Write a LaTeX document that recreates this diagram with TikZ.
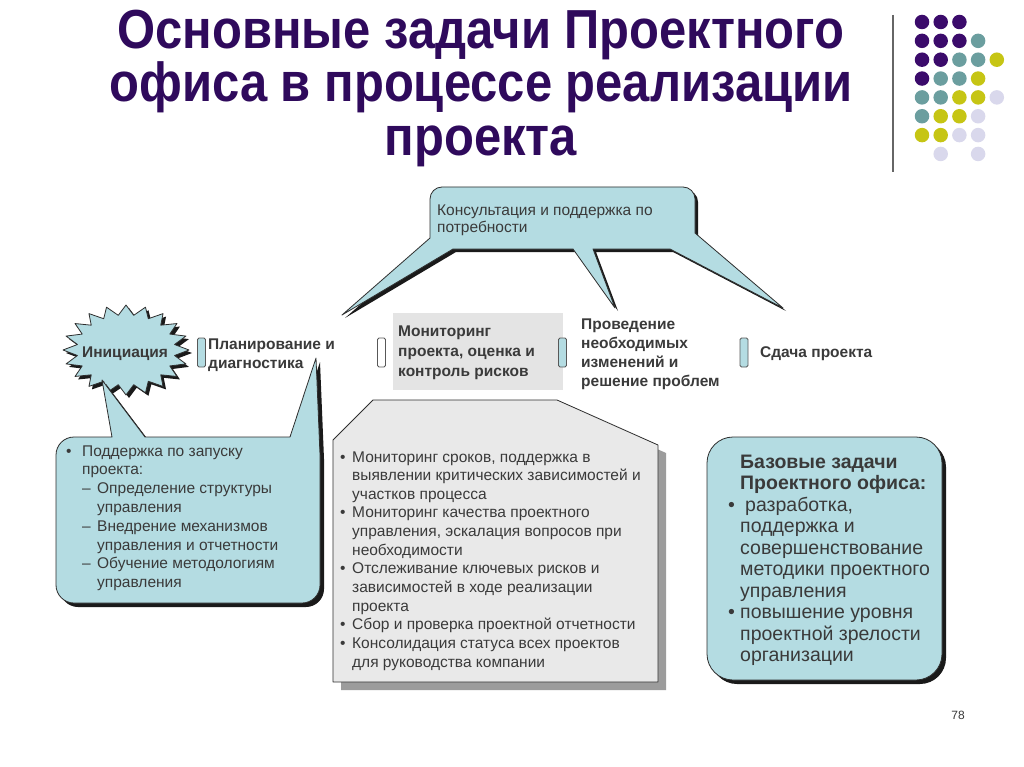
\documentclass[tikz,border=0pt]{standalone}
\usepackage{fontspec}
\setmainfont{Liberation Sans}
\newfontfamily\ttlfont[FakeStretch=0.89]{Liberation Sans}
\definecolor{cblue}{HTML}{B4DCE2}
\definecolor{outl}{HTML}{2E2E2E}
\definecolor{shd}{HTML}{1A1A1A}
\definecolor{txt}{HTML}{3A3A3A}
\definecolor{ttl}{HTML}{2F0A5C}
\definecolor{dp}{HTML}{3B0B6B}
\definecolor{dt}{HTML}{6B9E9F}
\definecolor{dy}{HTML}{C6C514}
\definecolor{dl}{HTML}{D9D8EC}
\definecolor{pgray}{HTML}{E9E9E9}
\definecolor{pshd}{HTML}{9C9C9C}
\definecolor{gbox}{HTML}{E4E4E4}
\newcommand{\mkb}[2]{\makebox[#1pt][l]{#2}}
\begin{document}
\begin{tikzpicture}[x=1pt,y=-1pt,
  lbl/.style={anchor=base west, inner sep=0pt, text=txt, font=\fontsize{15.5}{18}\selectfont},
  lblb/.style={anchor=base west, inner sep=0pt, text=txt, font=\fontsize{15.5}{18}\selectfont\bfseries},
  rbt/.style={anchor=base west, inner sep=0pt, text=txt, font=\fontsize{19.5}{22}\selectfont},
  rbtb/.style={anchor=base west, inner sep=0pt, text=txt, font=\fontsize{19.5}{22}\selectfont\bfseries},
  ttlst/.style={anchor=base, inner sep=0pt, text=ttl, font=\ttlfont\fontsize{55}{60}\selectfont\bfseries},
  callout/.style={fill=cblue, draw=outl, line width=0.8pt, line join=round},
  shadow/.style={fill=shd, draw=shd, line width=0.8pt, line join=round},
  marker/.style={draw=outl!80, line width=0.9pt, rounded corners=1.5pt, minimum width=8pt, minimum height=29pt, inner sep=0pt, fill=cblue},
  dot/.style={circle, minimum size=14.5pt, inner sep=0pt}
]
\useasboundingbox (0,0) rectangle (1024,767);
\fill[white] (0,0) rectangle (1024,767);

% ---------- title ----------
\node[ttlst] (t1) at (481,49) {Основные задачи Проектного};
\node[ttlst] (t2) at (481,102) {офиса в процессе реализации};
\node[ttlst] (t3) at (481,156) {проекта};

% ---------- decoration dots ----------
\draw[line width=1.2pt, color=black!60] (893,15) -- (893,172);
\foreach \r/\c/\col [count=\i] in {1/1/dp,1/2/dp,1/3/dp,
  2/1/dp,2/2/dp,2/3/dp,2/4/dt,
  3/1/dp,3/2/dp,3/3/dt,3/4/dt,3/5/dy,
  4/1/dp,4/2/dt,4/3/dt,4/4/dy,
  5/1/dt,5/2/dt,5/3/dy,5/4/dy,5/5/dl,
  6/1/dt,6/2/dy,6/3/dy,6/4/dl,
  7/1/dy,7/2/dy,7/3/dl,7/4/dl,
  8/2/dl,8/4/dl}
  \node[dot, fill=\col] (d\i) at ({922+18.7*(\c-1)}, {22+18.85*(\r-1)}) {};

% ---------- top callout ----------
\fill[shd, shift={(3,3)}] (453,249) -- (342,315) -- (430,238) [rounded corners=12pt] -- (430,187) -- (695,187) [sharp corners] -- (695,233) -- (783,308) -- (670,249) -- (593,249) -- (615,308) -- (573,249) -- cycle;
\draw[callout] (453,249) -- (342,315) -- (430,238) [rounded corners=12pt] -- (430,187) -- (695,187) [sharp corners] -- (695,233) -- (783,308) -- (670,249) -- (593,249) -- (615,308) -- (573,249) -- cycle;
\node[lbl] (c1) at (437,215) {Консультация и поддержка по};
\node[lbl] (c2) at (437,233) {потребности};

% ---------- process row ----------
\fill[gbox] (393,313) rectangle (563,390);
\node[marker] (m1) at (201.5,352.5) {};
\node[marker, fill=white] (m2) at (381.5,352.5) {};
\node[marker] (m3) at (562.5,352.5) {};
\node[marker] (m4) at (744,352.5) {};
\node[lblb] (p1a) at (208,349) {Планирование и};
\node[lblb] (p1b) at (208,368) {диагностика};
\node[lblb] (p2a) at (398,336) {Мониторинг};
\node[lblb] (p2b) at (398,356) {проекта, оценка и};
\node[lblb] (p2c) at (398,376) {контроль рисков};
\node[lblb] (p3a) at (581,329) {Проведение};
\node[lblb] (p3b) at (581,348) {необходимых};
\node[lblb] (p3c) at (581,367) {изменений и};
\node[lblb] (p3d) at (581,386) {решение проблем};
\node[lblb] (p4) at (760,357) {Сдача проекта};

% ---------- starburst ----------
\fill[shd, shift={(3,3)}] plot[samples at={0,9,...,351}, variable=\a]
  ({126+63*(1-0.22*mod(round(\a/9),2))*cos(\a)}, {350+45*(1-0.22*mod(round(\a/9),2))*sin(\a)}) -- cycle;
\draw[callout] plot[samples at={0,9,...,351}, variable=\a]
  ({126+63*(1-0.22*mod(round(\a/9),2))*cos(\a)}, {350+45*(1-0.22*mod(round(\a/9),2))*sin(\a)}) -- cycle;
\node[lblb] (ini) at (82,357) {Инициация};

% ---------- lower-left callout ----------
\fill[shd, shift={(4,4)}] (102,380) -- (145,437) -- (290,437) -- (316,358) -- (320,455) [rounded corners=18pt] -- (320,603) -- (56,603) -- (56,437) [sharp corners] -- (112,437) -- cycle;
\draw[callout] (102,380) -- (145,437) -- (290,437) -- (316,358) -- (320,455) [rounded corners=18pt] -- (320,603) -- (56,603) -- (56,437) [sharp corners] -- (112,437) -- cycle;
\foreach \x/\t [count=\i] in {66/{\mkb{16}{•}Поддержка по запуску},
  82/{проекта:},
  82/{\mkb{15}{–}Определение структуры},
  97/{управления},
  82/{\mkb{15}{–}Внедрение механизмов},
  97/{управления и отчетности},
  82/{\mkb{15}{–}Обучение методологиям},
  97/{управления}}
  \node[lbl] (ll\i) at (\x, {456+18.8*(\i-1)}) {\t};

% ---------- middle pentagon ----------
\fill[pshd, shift={(8,8)}] (333,440) -- (373,400) -- (557,400) -- (658,445) -- (658,682) -- (333,682) -- cycle;
\draw[fill=pgray, draw=outl, line width=0.8pt, line join=round] (333,440) -- (373,400) -- (557,400) -- (658,445) -- (658,682) -- (333,682) -- cycle;
\foreach \x/\t [count=\i] in {340/{\mkb{12}{•}Мониторинг сроков, поддержка в},
  352/{выявлении критических зависимостей и},
  352/{участков процесса},
  340/{\mkb{12}{•}Мониторинг качества проектного},
  352/{управления, эскалация вопросов при},
  352/{необходимости},
  340/{\mkb{12}{•}Отслеживание ключевых рисков и},
  352/{зависимостей в ходе реализации},
  352/{проекта},
  340/{\mkb{12}{•}Сбор и проверка проектной отчетности},
  340/{\mkb{12}{•}Консолидация статуса всех проектов},
  352/{для руководства компании}}
  \node[lbl] (pt\i) at (\x, {462+18.64*(\i-1)}) {\t};

% ---------- right box ----------
\fill[shd, rounded corners=26pt, shift={(4,4)}] (707,437) rectangle (942,680);
\draw[callout, rounded corners=26pt] (707,437) rectangle (942,680);
\node[rbtb] (rb1) at (740,468) {Базовые задачи};
\node[rbtb] (rb2) at (740,489.5) {Проектного офиса:};
\foreach \x/\t [count=\i from 3] in {728/{\mkb{17}{•}разработка,},
  740/{поддержка и},
  740/{совершенствование},
  740/{методики проектного},
  740/{управления},
  728/{\mkb{12}{•}повышение уровня},
  740/{проектной зрелости},
  740/{организации}}
  \node[rbt] (rb\i) at (\x, {468+21.5*(\i-1)}) {\t};

% ---------- page number ----------
\node[anchor=base, inner sep=0pt, text=txt, font=\fontsize{12}{14}\selectfont] (pg) at (958,719) {78};
\end{tikzpicture}
\end{document}
